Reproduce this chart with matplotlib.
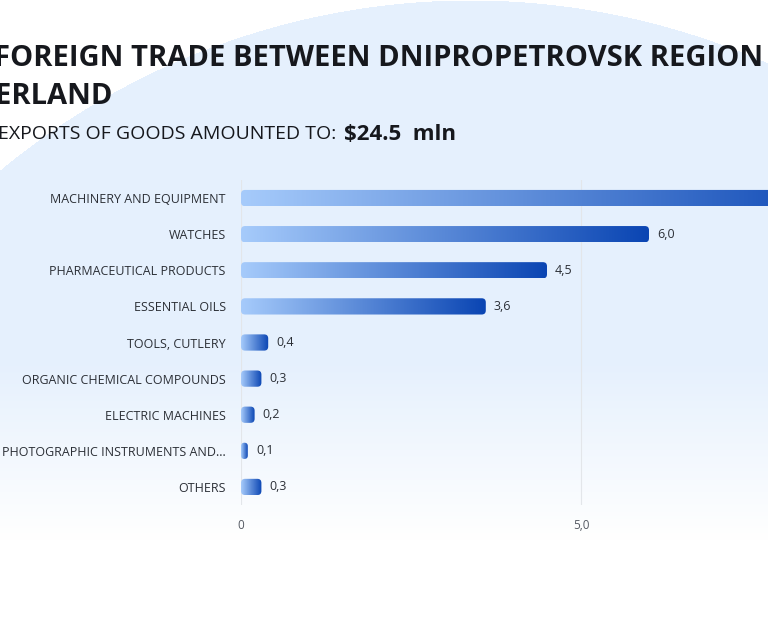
import numpy as np
import matplotlib.pyplot as plt
from matplotlib.patches import FancyBboxPatch
from matplotlib.colors import LinearSegmentedColormap

categories = ["MACHINERY AND EQUIPMENT", "WATCHES", "PHARMACEUTICAL PRODUCTS",
              "ESSENTIAL OILS", "TOOLS, CUTLERY", "ORGANIC CHEMICAL COMPOUNDS",
              "ELECTRIC MACHINES", "PHOTOGRAPHIC INSTRUMENTS AND...", "OTHERS"]
values = [9.1, 6.0, 4.5, 3.6, 0.4, 0.3, 0.2, 0.1, 0.3]
value_labels = ["9,1", "6,0", "4,5", "3,6", "0,4", "0,3", "0,2", "0,1", "0,3"]
x_ticks = [0, 5, 10]
x_tick_labels = ["0", "5,0", "10,0"]

FONT = "Open Sans"
W, H = 768, 620
fig = plt.figure(figsize=(W / 100, H / 100), dpi=100)
fig.patch.set_facecolor("white")

# background: pale circle fading out towards the bottom
bg = fig.add_axes([0, 0, 1, 1])
yy, xx = np.mgrid[0:H, 0:W]
circle = ((xx - 470) ** 2 + (yy - 735) ** 2) < 735 ** 2
fade = np.clip((540 - yy) / 180, 0, 1)
img = np.ones((H, W, 4))
img[..., 0] = 0.90
img[..., 1] = 0.945
img[..., 2] = 0.995
img[..., 3] = circle * fade
bg.imshow(img, extent=(0, W, H, 0), aspect="auto")
bg.set_xlim(0, W)
bg.set_ylim(H, 0)
bg.axis("off")

title_font = {"family": FONT, "weight": "bold", "color": "#16181d"}
bg.text(763, 58, "FOREIGN TRADE BETWEEN DNIPROPETROVSK REGION", ha="right", va="center",
        fontsize=21, **title_font)
bg.text(113, 96, "AND SWITZERLAND", ha="right", va="center", fontsize=21, **title_font)
bg.text(336, 134, "EXPORTS OF GOODS AMOUNTED TO:", ha="right", va="center",
        fontsize=14, family=FONT, color="#16181d")
bg.text(344, 134, "$24.5  mln", ha="left", va="center", fontsize=16, **title_font)

# chart axes: 0 at x=241px, 68px per unit
left_px, top_px, bot_px = 241, 180, 505
ax = fig.add_axes([left_px / W, 1 - bot_px / H, 1 - left_px / W, (bot_px - top_px) / H])
ax.patch.set_alpha(0)
for s in ax.spines.values():
    s.set_visible(False)
ax.set_xticks(x_ticks)
ax.set_xticklabels(x_tick_labels, fontsize=8.5, color="#555a63", family=FONT)
ax.tick_params(axis="x", length=0, pad=10)
ax.set_yticks(range(len(categories)))
ax.set_yticklabels(categories, fontsize=9, color="#2b2f36", family=FONT)
ax.tick_params(axis="y", length=0, pad=11)
ax.grid(axis="x", color="#e3e6ea", linewidth=0.8)
ax.set_axisbelow(True)

cmap = LinearSegmentedColormap.from_list("bar", ["#a6cbfb", "#0a45b3"])
grad = np.linspace(0, 1, 256).reshape(1, -1)
h = 0.45
aspect = 68 / 36.1
for i, (v, lab) in enumerate(zip(values, value_labels)):
    r = min(0.06, v / 2)
    patch = FancyBboxPatch((0, i - h / 2), v, h,
                           boxstyle=f"round,pad=0,rounding_size={r}",
                           mutation_aspect=aspect, facecolor="none", edgecolor="none")
    ax.add_patch(patch)
    im = ax.imshow(grad, cmap=cmap, extent=(0, v, i + h / 2, i - h / 2),
                   aspect="auto", zorder=2)
    im.set_clip_path(patch)
    ax.text(v + 0.12, i, lab, va="center", ha="left", fontsize=9,
            color="#2b2f36", family=FONT)
ax.set_xlim(0, (W - left_px) / 68)
ax.set_ylim(len(categories) - 0.5, -0.5)

fig.savefig("out.png", dpi=100)
